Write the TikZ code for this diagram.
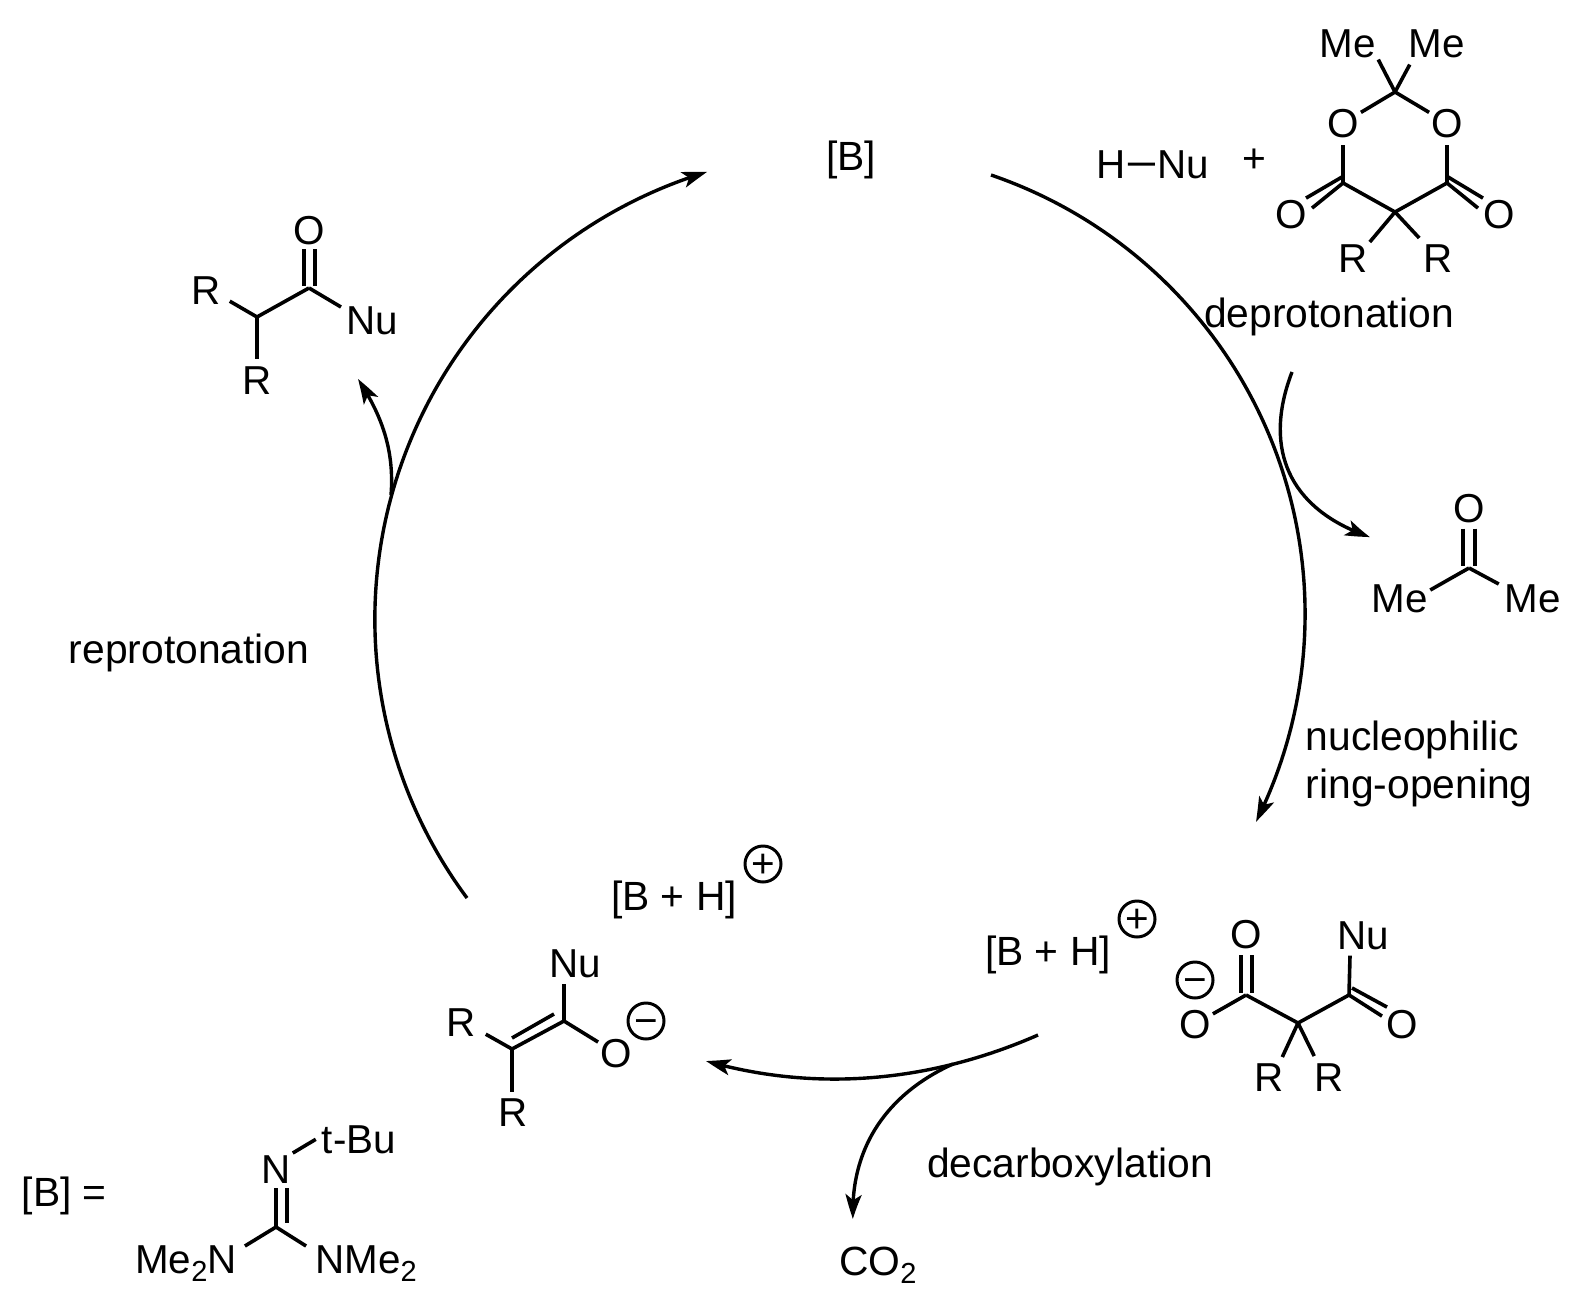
\documentclass[tikz,border=0pt]{standalone}
\usepackage{fontspec}
\setmainfont{Liberation Sans}
\usetikzlibrary{arrows.meta,bending}
\newcommand{\subtwo}{\raisebox{-8pt}{\fontsize{29}{29}\selectfont 2}}
\newcommand{\chgmark}[4]{%
  \node[chgring] (#1) at (#2,#3) {};
  \node[atom,inner sep=0pt] (#1t) at (#2,#3+13.6) {#4};
}
\tikzset{
  atom/.style={inner sep=2pt,anchor=base,font=\fontsize{40.4}{40.4}\selectfont},
  lab/.style={inner sep=0pt,anchor=base,font=\fontsize{40.8}{40.8}\selectfont},
  labw/.style={inner sep=0pt,anchor=base west,font=\fontsize{40.8}{40.8}\selectfont},
  bond/.style={line width=3.6pt,line join=round},
  chgring/.style={circle,draw,line width=3pt,minimum size=36pt,inner sep=0pt},
  cyca/.style={line width=3.4pt,-{Stealth[length=25pt,width=16pt,inset=6pt,bend]}},
}
\begin{document}
\begin{tikzpicture}[x=1pt,y=-1pt]
\useasboundingbox (0,0) rectangle (1581,1314);

% free labels
\node[lab] (bTop) at (851,170) {[B]};
\node[lab] (depro) at (1329,327) {deprotonation};
\node[lab] (repro) at (189,663) {reprotonation};
\node[labw] (nuc) at (1305.5,750) {nucleophilic};
\node[labw] (ring) at (1305.5,798) {ring-opening};
\node[lab] (decarb) at (1070,1177) {decarboxylation};
\node[labw] (coo) at (839,1275) {CO\subtwo};
\node[lab] (bhR) at (1048,965) {[B + H]};
\node[lab] (bhL) at (674,910) {[B + H]};
\node[labw] (beq) at (21.5,1206) {[B] =};
\node[lab] (plusSign) at (1254,172.6) {+};
\chgmark{pR}{1137}{919}{+}
\chgmark{pL}{763}{864}{+}
\chgmark{mR}{1195}{980}{−}
\chgmark{mL}{646}{1021}{−}

% H-Nu
\node[atom] (hH) at (1111,178) {H};
\node[atom] (hNu) at (1183,178) {Nu};
\draw[line width=3pt] (hH) -- (hNu);

% Meldrum's acid
\coordinate (mC2) at (1395,92);
\coordinate (mC4) at (1343,183);
\coordinate (mC5) at (1395,212);
\coordinate (mC6) at (1447,183);
\node[atom] (mMe1) at (1348,57) {Me};
\node[atom] (mMe2) at (1437,57) {Me};
\node[atom] (mO1) at (1343,137) {O};
\node[atom] (mO3) at (1447,137) {O};
\node[atom] (mO4) at (1291,228) {O};
\node[atom] (mO6) at (1499,228) {O};
\node[atom] (mR1) at (1353,272) {R};
\node[atom] (mR2) at (1438,272) {R};
\draw[bond] (mC2) -- (mMe1.south east);
\draw[bond] (mC2) -- ([shift={(3,5)}]mMe2.south west);
\draw[bond] (mC2) -- (mO1);
\draw[bond] (mC2) -- (mO3);
\draw[bond] (mC4) -- ([shift={(0,5)}]mO1.south);
\draw[bond] (mC6) -- ([shift={(0,5)}]mO3.south);
\draw[bond] (mC4) -- (mC5) -- (mC6);
\draw[bond] ([shift={(15,-16)}]mO4.center) -- ([shift={(-1,-6)}]mC4);
\draw[bond] ([shift={(21,-6)}]mO4.center) -- (mC4);
\draw[bond] ([shift={(-16,-16)}]mO6.center) -- ([shift={(1,-6)}]mC6);
\draw[bond] ([shift={(-21,-6)}]mO6.center) -- (mC6);
\draw[bond] (mC5) -- (mR1.north east);
\draw[bond] (mC5) -- ([shift={(-2,-4)}]mR2.north west);

% acetone
\coordinate (aC) at (1469,568);
\node[atom] (aO) at (1469,522.5) {O};
\node[atom] (aMe1) at (1400,612) {Me};
\node[atom] (aMe2) at (1533,612) {Me};
\draw[bond] ([shift={(-6,20)}]aO.center) -- ([shift={(-6,-2)}]aC);
\draw[bond] ([shift={(6,20)}]aO.center) -- ([shift={(6,-2)}]aC);
\draw[bond] (aC) -- ([shift={(0,8)}]aMe1.north east);
\draw[bond] (aC) -- ([shift={(-4,2)}]aMe2.north west);

% malonate half amide
\coordinate (hC1) at (1246,995);
\coordinate (hCq) at (1298,1023);
\coordinate (hC3) at (1349,995);
\node[atom] (hOa) at (1246,948) {O};
\node[atom] (hOb) at (1195,1038) {O};
\node[atom] (hOc) at (1402,1038) {O};
\node[atom] (hNb) at (1363,949) {Nu};
\node[atom] (hRc) at (1269.5,1091) {R};
\node[atom] (hRd) at (1329,1091) {R};
\draw[bond] ([shift={(-5,21)}]hOa.center) -- ([shift={(-5,-2)}]hC1);
\draw[bond] ([shift={(6,21)}]hOa.center) -- ([shift={(6,-2)}]hC1);
\draw[bond] (hC1) -- (hOb);
\draw[bond] (hC1) -- (hCq) -- (hC3);
\draw[bond] (hC3) -- ([shift={(-13,4)}]hNb.south);
\draw[bond] ([shift={(-15,-17)}]hOc.center) -- ([shift={(3,-7)}]hC3);
\draw[bond] ([shift={(-20,-8)}]hOc.center) -- (hC3);
\draw[bond] (hCq) -- ([shift={(-4,-4)}]hRc.north east);
\draw[bond] (hCq) -- ([shift={(2,-5)}]hRd.north west);

% enolate
\coordinate (eC1) at (564,1021);
\coordinate (eC2) at (512,1049);
\node[atom] (eNu) at (575,977) {Nu};
\node[atom] (eO) at (616,1067) {O};
\node[atom] (eR1) at (461,1036) {R};
\node[atom] (eR2) at (513,1126) {R};
\draw[bond] (eC1) -- ([shift={(-11,4)}]eNu.south);
\draw[bond] (eC1) -- (eO);
\draw[bond] (eC1) -- (eC2);
\draw[bond] ([shift={(0,-11)}]eC2) -- ([shift={(-10,-7)}]eC1);
\draw[bond] (eC2) -- ([shift={(8,-4)}]eR1.south east);
\draw[bond] (eC2) -- ([shift={(-1,-4)}]eR2.north);

% product
\coordinate (pC) at (309,288);
\coordinate (pH) at (257,317);
\node[atom] (pO) at (309,244) {O};
\node[atom] (pNu) at (372,334) {Nu};
\node[atom] (pR1) at (206,304) {R};
\node[atom] (pR2) at (257,394) {R};
\draw[bond] ([shift={(-5,19)}]pO.center) -- ([shift={(-5,-2)}]pC);
\draw[bond] ([shift={(6,19)}]pO.center) -- ([shift={(6,-2)}]pC);
\draw[bond] (pC) -- ([shift={(-3,3)}]pNu.north west);
\draw[bond] (pC) -- (pH);
\draw[bond] (pH) -- ([shift={(7,-5)}]pR1.south east);
\draw[bond] (pH) -- ([shift={(0,-5)}]pR2.north);

% guanidine
\coordinate (gC) at (276,1227);
\node[atom] (gN) at (276,1183) {N};
\node[atom] (gT) at (359,1153) {t-Bu};
\node[atom] (gL) at (186,1273) {Me\subtwo N};
\node[atom] (gR) at (366,1273) {NMe\subtwo};
\draw[bond] ([shift={(0,3)}]gN.south) -- (gC);
\draw[bond] ([shift={(11,3)}]gN.south) -- ([shift={(11,-4)}]gC);
\draw[bond] (gN.north east) -- ([xshift=-4pt]gT.west);
\draw[bond] (gC) -- ([shift={(6,3)}]gL.north east);
\draw[bond] (gC) -- ([shift={(-7,3)}]gR.north west);

% cycle
\coordinate (arcR) at (991,175);
\coordinate (arcL) at (467,898);
\draw[cyca] (arcR) arc[start angle=71.15,end angle=-26.6,radius=464pt];
\draw[cyca] (arcL) arc[start angle=216.6,end angle=106.8,radius=467.4pt];

% side arrows
\coordinate (dS) at (1292,372);
\coordinate (dE) at (1370,537);
\draw[cyca] (dS) .. controls (1262,450) and (1290,510) .. (dE);
\coordinate (rS) at (391,495);
\coordinate (rE) at (358,379);
\draw[cyca] (rS) .. controls (395,445) and (378,410) .. (rE);
\coordinate (bS) at (1038,1035);
\coordinate (bE) at (706,1061);
\draw[cyca] (bS) .. controls (940,1078) and (825,1095) .. (bE);
\coordinate (cS) at (953,1064);
\coordinate (cE) at (853,1219);
\draw[cyca] (cS) .. controls (895,1090) and (850,1140) .. (cE);
\end{tikzpicture}
\end{document}
